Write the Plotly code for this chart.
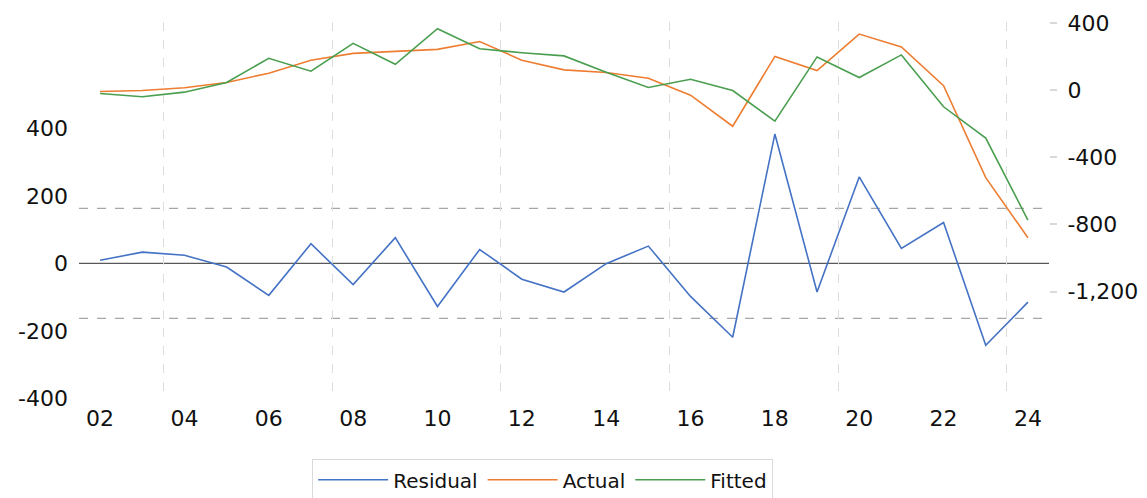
import plotly.graph_objects as go

years = list(range(2002, 2025))
tick_years = list(range(2002, 2025, 2))
tick_text = [f"{y % 100:02d}" for y in tick_years]

residual = [9, 33, 24, -11, -95, 58, -63, 76, -128, 41, -47, -85, -1, 51, -98, -219,
            383, -85, 256, 44, 121, -243, -115]
actual = [-8, -2, 14, 46, 101, 178, 219, 233, 243, 290, 178, 121, 105, 71, -30, -215,
          201, 117, 334, 257, 26, -521, -879]
fitted = [-20, -39, -12, 46, 190, 113, 279, 154, 366, 247, 223, 204, 107, 16, 65, -2,
          -185, 198, 75, 210, -99, -286, -774]

band = 163  # residual band (dashed lines)
grid_years = [2003.5, 2007.5, 2011.5, 2015.5, 2019.5, 2023.5]

left_ticks = [-400, -200, 0, 200, 400]
left_text = ["-400", "-200", "0", "200", "400"]
right_ticks = [-1200, -800, -400, 0, 400]
right_text = ["-1,200", "-800", "-400", "0", "400"]

FONT = "DejaVu Sans"

fig = go.Figure()
fig.add_trace(go.Scatter(x=years, y=residual, name="Residual", mode="lines",
                         line=dict(color="#4472C4", width=1.6), yaxis="y"))
fig.add_trace(go.Scatter(x=years, y=actual, name="Actual", mode="lines",
                         line=dict(color="#ED7D31", width=1.6), yaxis="y2"))
fig.add_trace(go.Scatter(x=years, y=fitted, name="Fitted", mode="lines",
                         line=dict(color="#4A9E4F", width=1.6), yaxis="y2"))

# zero line and residual band
fig.add_shape(type="line", xref="paper", yref="y", x0=0, x1=1, y0=0, y1=0,
              line=dict(color="#595959", width=1.3), layer="below")
for v in (band, -band):
    fig.add_shape(type="line", xref="paper", yref="y", x0=0, x1=1, y0=v, y1=v,
                  line=dict(color="#A6A6A6", width=1.3, dash="dash"), layer="below")

fig.update_layout(
    width=1139, height=490,
    margin=dict(l=71, r=98, t=14, b=99, autoexpand=False),
    paper_bgcolor="white", plot_bgcolor="white",
    font=dict(family=FONT, size=22, color="#111111"),
    showlegend=True,
    legend=dict(orientation="h", x=0.478, xanchor="center", y=-0.16, yanchor="top",
                bordercolor="#D9D9D9", borderwidth=1,
                font=dict(family=FONT, size=20, color="#111111"),
                itemwidth=70, tracegroupgap=0),
    xaxis=dict(range=[2001.5, 2024.5], tickvals=tick_years, ticktext=tick_text,
               showgrid=False, zeroline=False, showline=False, ticks="",
               ticklabelstandoff=4, automargin=False,
               minor=dict(tickvals=grid_years, showgrid=True, gridcolor="#DDDDDD",
                          griddash="dash", gridwidth=1)),
    yaxis=dict(range=[-402, 715], tickvals=left_ticks, ticktext=left_text,
               showgrid=False, zeroline=False, automargin=False,
               showline=False, ticks="", ticklabelstandoff=10),
    yaxis2=dict(range=[-1840, 406], tickvals=right_ticks, ticktext=right_text,
                overlaying="y", side="right", showgrid=False, zeroline=False,
                showline=False, ticks="outside", ticklen=7, tickcolor="#D9D9D9",
                tickwidth=1.5, ticklabelstandoff=6, automargin=False),
)

fig.write_html("out.html")
